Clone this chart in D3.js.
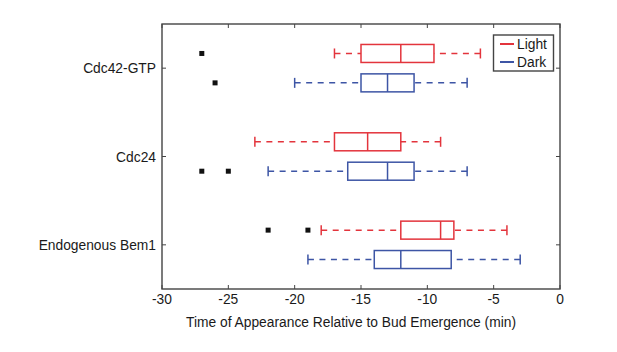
<!DOCTYPE html>
<html><head><meta charset="utf-8">
<script src="https://cdn.jsdelivr.net/npm/d3@7"></script>
<style>body{margin:0;background:#fff}svg{display:block}text{font-family:"Liberation Sans",Arial,sans-serif}</style>
</head><body>
<svg id="c" width="617" height="352"></svg>
<script>
const categories = ["Cdc42-GTP", "Cdc24", "Endogenous Bem1"];
const seriesNames = ["Light", "Dark"];
// [whiskerLow, q1, median, q3, whiskerHigh]
const lightStats = [[-17, -15, -12, -9.5, -6], [-23, -17, -14.5, -12, -9], [-18, -12, -9, -8, -4]];
const darkStats = [[-20, -15, -13, -11, -7], [-22, -16, -13, -11, -7], [-19, -14, -12, -8.2, -3]];
const lightOutliers = [[-27], [], [-22, -19]];
const darkOutliers = [[-26], [-27, -25], []];
const xTicks = [-30, -25, -20, -15, -10, -5, 0];
const xLabel = "Time of Appearance Relative to Bud Emergence (min)";

const colors = {Light: "#e3343c", Dark: "#3d55a5"};
const svg = d3.select("#c");
const L = 162, R = 560, T = 24, B = 289;
const x = d3.scaleLinear().domain([-30, 0]).range([L, R]);
const y = d3.scaleLinear().domain([0.5, 3.5]).range([T, B]);
const axisColor = "#444";
const tk = 4;
const fs = 13.8;

// frame
svg.append("rect").attr("x", L).attr("y", T).attr("width", R - L).attr("height", B - T)
  .attr("fill", "none").attr("stroke", axisColor).attr("stroke-width", 1.4);

// x ticks bottom & top (inward)
const gx = svg.append("g");
xTicks.forEach(v => {
  gx.append("line").attr("x1", x(v)).attr("x2", x(v)).attr("y1", B).attr("y2", B - tk).attr("stroke", axisColor);
  gx.append("line").attr("x1", x(v)).attr("x2", x(v)).attr("y1", T).attr("y2", T + tk).attr("stroke", axisColor);
  gx.append("text").attr("x", x(v)).attr("y", 304).attr("text-anchor", "middle")
    .attr("font-size", fs).attr("fill", "#1a1a1a").text(String(v));
});
svg.append("text").attr("x", 351).attr("y", 327).attr("text-anchor", "middle")
  .attr("font-size", fs).attr("fill", "#1a1a1a").text(xLabel);

// y ticks
categories.forEach((c, i) => {
  const yy = y(i + 1);
  svg.append("line").attr("x1", L).attr("x2", L + tk).attr("y1", yy).attr("y2", yy).attr("stroke", axisColor);
  svg.append("line").attr("x1", R).attr("x2", R - tk).attr("y1", yy).attr("y2", yy).attr("stroke", axisColor);
  svg.append("text").attr("x", L - 6).attr("y", yy + 5).attr("text-anchor", "end")
    .attr("font-size", fs).attr("fill", "#1a1a1a").text(c);
});

const boxH = 18, off = 14.7;
function drawBox(stats, yc, col) {
  const [lo, q1, md, q3, hi] = stats;
  const g = svg.append("g").attr("stroke", col).attr("stroke-width", 1.5).attr("fill", "none");
  g.append("line").attr("x1", x(lo)).attr("x2", x(q1)).attr("y1", yc).attr("y2", yc).attr("stroke-dasharray", "6,5.5");
  g.append("line").attr("x1", x(hi)).attr("x2", x(q3)).attr("y1", yc).attr("y2", yc).attr("stroke-dasharray", "6,5.5");
  g.append("line").attr("x1", x(lo)).attr("x2", x(lo)).attr("y1", yc - 5).attr("y2", yc + 5);
  g.append("line").attr("x1", x(hi)).attr("x2", x(hi)).attr("y1", yc - 5).attr("y2", yc + 5);
  g.append("rect").attr("x", x(q1)).attr("y", yc - boxH / 2).attr("width", x(q3) - x(q1)).attr("height", boxH);
  g.append("line").attr("x1", x(md)).attr("x2", x(md)).attr("y1", yc - boxH / 2).attr("y2", yc + boxH / 2);
}
function drawOut(vals, yc) {
  vals.forEach(v => svg.append("rect").attr("x", x(v) - 2.5).attr("y", yc - 2.5).attr("width", 5).attr("height", 5).attr("fill", "#111"));
}
categories.forEach((c, i) => {
  const yc = y(i + 1);
  drawBox(lightStats[i], yc - off, colors.Light);
  drawBox(darkStats[i], yc + off, colors.Dark);
  drawOut(lightOutliers[i], yc - off);
  drawOut(darkOutliers[i], yc + off);
});

// legend
const lg = svg.append("g");
lg.append("rect").attr("x", 493.5).attr("y", 35).attr("width", 60).attr("height", 36)
  .attr("fill", "#fff").attr("stroke", axisColor).attr("stroke-width", 1.4);
seriesNames.forEach((s, i) => {
  const yy = 44 + i * 18;
  lg.append("line").attr("x1", 500).attr("x2", 514).attr("y1", yy).attr("y2", yy).attr("stroke", colors[s]).attr("stroke-width", 2);
  lg.append("text").attr("x", 517).attr("y", yy + 5).attr("font-size", fs).attr("fill", "#1a1a1a").text(s);
});
</script>
</body></html>
